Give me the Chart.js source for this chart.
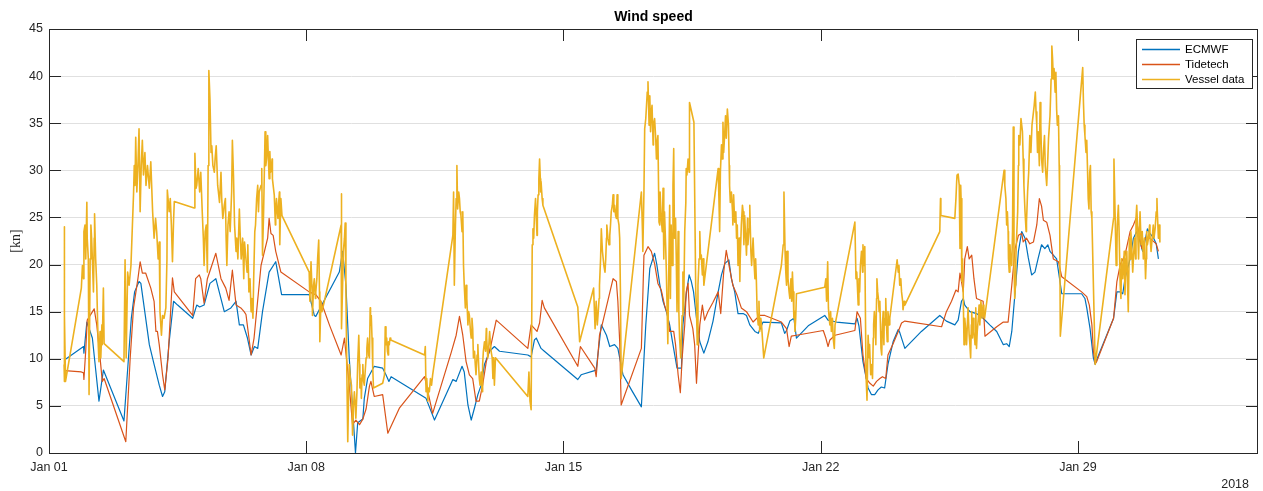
<!DOCTYPE html>
<html>
<head>
<meta charset="utf-8">
<title>Wind speed</title>
<script src="https://cdn.jsdelivr.net/npm/chart.js@4.4.1/dist/chart.umd.min.js"></script>
<style>
    html, body { margin: 0; padding: 0; background: #fff; }
    #wrap { width: 1263px; height: 491px; }
</style>
</head>
<body>
<div id="wrap"><canvas id="wind-speed" width="1263" height="491"></canvas></div>
<script>
// ============================================================================
// Data (x = days since Jan 01 2018, y = wind speed in knots)
// ============================================================================

const xTickDays = [0, 7, 14, 21, 28];
const xTickLabels = ['Jan 01', 'Jan 08', 'Jan 15', 'Jan 22', 'Jan 29'];
const yTicks = [0, 5, 10, 15, 20, 25, 30, 35, 40, 45];

const ecmwfSpeed = [
    [0.43,9.9],[0.94,11.3],[0.95,10.6],[1.03,13.9],[1.18,12.2],[1.36,5.5],[1.48,8.8],[2.04,3.4],[2.24,14.3],[2.33,17.1],
    [2.45,18.2],[2.5,18.0],[2.73,11.5],[2.86,9.4],[3.0,7.2],[3.09,6.0],[3.15,6.5],[3.27,11.8],[3.39,16.1],[3.5,15.7],
    [3.91,14.3],[4.02,15.7],[4.1,15.5],[4.22,15.7],[4.38,18.0],[4.54,18.5],[4.77,15.0],[4.95,15.4],[5.09,16.1],[5.18,13.6],
    [5.29,13.6],[5.4,12.2],[5.5,10.4],[5.59,11.3],[5.68,11.1],[5.81,15.0],[5.99,19.2],[6.17,20.3],[6.33,16.8],[7.08,16.8],
    [7.22,14.6],[7.26,14.5],[7.9,19.2],[7.99,21.4],[8.08,17.8],[8.17,10.1],[8.26,4.8],[8.34,0.0],[8.4,3.2],[8.54,3.6],
    [8.58,5.8],[8.67,7.9],[8.85,9.2],[9.08,9.0],[9.17,8.3],[9.25,7.6],[9.31,8.1],[10.26,5.8],[10.49,3.5],[10.99,7.8],
    [11.08,7.6],[11.24,9.2],[11.3,8.6],[11.4,5.1],[11.49,3.5],[11.58,4.8],[11.67,6.2],[11.76,7.2],[11.85,9.4],[11.99,10.8],
    [12.12,11.3],[12.26,10.8],[13.03,10.4],[13.12,10.2],[13.21,12.0],[13.26,12.2],[13.39,11.1],[13.48,10.8],[14.39,7.8],[14.48,8.3],
    [14.89,8.8],[15.03,13.6],[15.17,12.5],[15.26,11.3],[15.39,11.5],[15.48,11.1],[15.62,8.3],[15.85,6.7],[16.12,4.9],[16.24,13.6],
    [16.35,19.6],[16.48,21.2],[16.54,20.0],[16.62,17.9],[16.71,16.1],[16.8,15.0],[16.89,13.6],[16.98,11.5],[17.09,9.0],[17.21,9.0],
    [17.25,13.6],[17.34,16.8],[17.42,18.9],[17.48,18.2],[17.54,17.1],[17.62,14.3],[17.71,11.8],[17.82,10.6],[17.93,11.8],[18.07,14.0],
    [18.21,17.1],[18.3,18.9],[18.39,20.1],[18.5,20.5],[18.57,18.5],[18.66,17.1],[18.75,14.8],[18.89,14.8],[18.98,14.6],[19.07,13.6],
    [19.21,12.9],[19.3,12.7],[19.43,13.9],[19.93,13.8],[20.02,12.7],[20.07,13.0],[20.16,14.0],[20.27,14.3],[20.34,12.2],[20.66,13.5],
    [21.11,14.6],[21.2,14.1],[21.43,13.9],[21.93,13.7],[21.99,14.3],[22.04,13.5],[22.15,9.7],[22.29,6.9],[22.38,6.2],[22.47,6.2],
    [22.56,6.7],[22.65,7.0],[22.74,6.9],[22.83,9.4],[22.97,11.8],[23.11,13.1],[23.15,12.8],[23.29,11.1],[23.74,12.9],[24.24,14.6],
    [24.42,14.0],[24.65,13.6],[24.74,14.1],[24.83,16.1],[24.88,16.4],[24.92,15.7],[25.06,15.0],[25.24,14.8],[25.42,14.3],[25.6,13.6],
    [25.79,12.9],[25.97,11.5],[26.06,11.6],[26.13,11.3],[26.2,12.9],[26.29,17.1],[26.38,21.4],[26.47,23.5],[26.56,22.8],[26.65,20.7],
    [26.74,18.9],[26.83,19.2],[26.92,20.7],[27.01,22.1],[27.1,21.7],[27.18,22.1],[27.24,21.4],[27.33,21.0],[27.42,20.6],[27.56,16.9],
    [28.1,16.9],[28.19,16.4],[28.24,15.4],[28.33,13.2],[28.42,10.1],[28.47,9.4],[28.51,9.9],[28.97,14.3],[29.06,17.1],[29.15,17.1],
    [29.22,16.9],[29.28,18.5],[29.42,20.6],[29.51,22.8],[29.6,23.5],[29.69,22.4],[29.76,21.4],[29.83,22.6],[29.89,23.8],[29.96,23.3],
    [30.06,22.8],[30.13,22.2],[30.19,20.6]
];

const tidetechSpeed = [
    [0.43,8.75],[0.88,8.6],[0.94,8.5],[0.95,7.8],[1.0,10.9],[1.04,14.1],[1.23,15.3],[1.3,13.6],[1.39,10.1],[1.45,7.6],
    [1.5,7.9],[2.09,1.2],[2.21,10.1],[2.3,15.4],[2.42,18.5],[2.48,20.3],[2.54,19.1],[2.63,19.1],[2.77,17.5],[2.86,16.1],
    [2.91,12.9],[2.95,12.9],[3.0,11.5],[3.09,8.3],[3.15,6.7],[3.24,10.1],[3.36,18.6],[3.41,17.1],[3.91,14.6],[3.99,18.5],
    [4.09,18.9],[4.13,18.5],[4.22,15.9],[4.31,18.5],[4.54,21.2],[4.68,18.5],[4.81,17.5],[4.9,16.2],[4.99,19.4],[5.09,15.7],
    [5.22,15.4],[5.31,15.0],[5.36,14.7],[5.5,10.4],[5.58,12.2],[5.77,19.9],[5.95,22.8],[5.99,24.9],[6.04,23.3],[6.1,23.1],
    [6.17,21.4],[6.31,19.2],[7.08,17.1],[7.26,16.8],[7.4,16.1],[7.63,13.6],[7.95,10.4],[8.04,12.2],[8.08,10.6],[8.17,7.2],
    [8.26,3.0],[8.35,3.5],[8.45,3.0],[8.54,3.6],[8.63,4.7],[8.72,7.1],[8.76,7.6],[8.85,6.0],[9.08,6.2],[9.22,2.1],
    [9.54,4.8],[10.22,8.1],[10.44,4.2],[10.94,10.6],[11.08,12.5],[11.17,14.5],[11.26,12.5],[11.35,9.7],[11.44,8.3],[11.53,7.9],
    [11.62,5.5],[11.71,5.5],[11.8,7.2],[11.9,9.7],[12.03,11.5],[12.17,14.1],[13.03,11.1],[13.12,13.6],[13.28,12.9],[13.35,13.8],
    [13.42,16.2],[13.48,15.4],[14.39,9.2],[14.46,11.3],[14.85,9.0],[14.89,8.1],[14.98,12.5],[15.07,13.9],[15.35,18.5],[15.44,18.2],
    [15.48,16.1],[15.53,11.8],[15.57,5.1],[16.12,11.1],[16.19,21.0],[16.3,21.9],[16.39,21.4],[16.48,20.1],[16.57,18.0],[16.66,17.3],
    [16.75,15.7],[16.84,14.6],[16.89,12.9],[17.0,12.9],[17.05,11.5],[17.12,8.3],[17.18,6.4],[17.23,10.1],[17.3,13.6],[17.34,17.1],
    [17.39,18.0],[17.43,14.6],[17.52,13.2],[17.57,11.5],[17.62,7.4],[17.71,13.6],[17.78,15.7],[17.84,14.1],[17.93,15.0],[18.07,16.0],
    [18.21,17.1],[18.28,14.8],[18.36,19.2],[18.43,21.5],[18.52,19.6],[18.61,17.8],[18.72,16.8],[18.84,15.4],[18.98,15.0],[19.16,13.9],
    [19.34,14.6],[19.48,14.6],[19.93,13.9],[20.07,13.2],[20.14,11.3],[20.2,12.4],[20.34,12.5],[21.07,13.0],[21.14,12.2],[21.2,11.3],
    [21.25,12.0],[21.39,12.5],[21.93,13.0],[21.99,15.0],[22.08,14.3],[22.15,10.4],[22.24,7.9],[22.34,7.4],[22.43,7.1],[22.52,7.6],
    [22.61,7.9],[22.68,8.1],[22.77,7.9],[22.83,10.4],[22.97,11.6],[23.11,12.9],[23.2,13.8],[23.29,14.0],[24.29,13.4],[24.42,15.0],
    [24.56,16.1],[24.68,17.3],[24.74,17.1],[24.79,19.1],[24.88,17.1],[24.92,20.6],[24.99,21.9],[25.04,20.6],[25.11,21.0],[25.17,18.5],
    [25.24,16.4],[25.42,16.1],[25.47,12.4],[25.79,13.4],[25.97,13.9],[26.1,13.9],[26.2,17.8],[26.29,21.7],[26.38,23.1],[26.47,23.3],
    [26.51,22.4],[26.6,22.8],[26.69,22.2],[26.79,22.4],[26.88,24.2],[26.95,27.0],[27.01,26.2],[27.06,24.7],[27.15,24.5],[27.24,23.1],
    [27.33,20.6],[27.47,20.3],[27.56,18.7],[28.1,17.1],[28.24,16.6],[28.31,15.7],[28.38,13.6],[28.42,10.8],[28.47,9.5],[28.51,9.7],
    [28.97,14.3],[29.06,18.2],[29.15,20.0],[29.28,21.0],[29.42,23.5],[29.51,24.2],[29.58,24.9],[29.65,23.5],[29.74,21.7],[29.83,22.8],
    [29.96,22.8],[30.13,22.2],[30.19,21.4]
];

const vesselSpeed = [
    [0.41,9.4],[0.41,24.0],[0.42,7.6],[0.43,14.6],[0.45,7.6],[0.88,17.5],[0.91,19.9],[0.94,18.5],[0.95,23.5],[0.98,24.2],
    [1.0,20.6],[1.03,26.6],[1.04,22.8],[1.07,20.6],[1.09,6.2],[1.12,20.6],[1.14,24.2],[1.16,22.8],[1.18,20.6],[1.21,17.1],
    [1.23,22.8],[1.24,25.4],[1.27,20.6],[1.3,17.8],[1.32,14.3],[1.34,11.5],[1.36,9.7],[1.39,12.9],[1.41,10.1],[1.44,13.6],
    [1.45,11.5],[1.48,17.5],[1.5,11.6],[2.04,9.7],[2.07,20.5],[2.1,10.1],[2.14,19.2],[2.18,17.8],[2.23,19.9],[2.27,24.2],
    [2.3,27.4],[2.32,30.5],[2.34,28.4],[2.36,33.5],[2.39,27.7],[2.42,30.5],[2.45,34.4],[2.48,25.6],[2.51,30.5],[2.54,33.2],
    [2.57,29.5],[2.61,31.9],[2.64,28.4],[2.68,30.5],[2.73,28.1],[2.77,30.9],[2.82,25.6],[2.86,22.8],[2.9,24.9],[2.93,23.5],
    [2.97,20.6],[3.0,22.4],[3.02,15.0],[3.06,12.5],[3.09,14.6],[3.13,14.3],[3.18,15.4],[3.21,20.6],[3.22,27.9],[3.27,25.6],
    [3.3,27.0],[3.33,24.2],[3.36,20.3],[3.39,24.7],[3.41,26.7],[3.95,26.0],[3.97,31.8],[4.0,28.1],[4.02,28.4],[4.06,30.2],
    [4.1,27.7],[4.13,29.8],[4.17,25.6],[4.2,22.8],[4.22,19.9],[4.25,23.5],[4.28,24.2],[4.3,20.6],[4.31,19.2],[4.33,30.5],
    [4.35,40.6],[4.38,37.6],[4.41,31.9],[4.43,32.6],[4.46,30.5],[4.5,29.8],[4.52,31.2],[4.55,32.6],[4.59,28.4],[4.61,27.7],
    [4.64,26.6],[4.68,29.8],[4.7,27.0],[4.73,24.9],[4.77,26.3],[4.8,27.0],[4.82,22.8],[4.84,19.9],[4.87,24.2],[4.9,25.6],
    [4.93,23.5],[4.97,27.7],[4.99,33.2],[5.02,29.5],[5.05,24.2],[5.09,21.4],[5.11,22.8],[5.14,20.6],[5.18,25.9],[5.2,23.5],
    [5.23,20.6],[5.27,22.8],[5.3,18.5],[5.32,22.4],[5.36,20.6],[5.39,19.2],[5.41,22.1],[5.44,17.1],[5.47,18.5],[5.5,15.0],
    [5.52,16.4],[5.55,14.3],[5.57,18.5],[5.6,23.5],[5.62,24.2],[5.65,27.0],[5.68,28.4],[5.7,25.6],[5.72,27.7],[5.77,28.4],
    [5.79,30.2],[5.81,21.0],[5.84,25.6],[5.86,29.8],[5.88,34.1],[5.9,30.5],[5.92,31.2],[5.95,33.7],[5.97,31.2],[5.99,29.1],
    [6.01,32.0],[6.03,29.8],[6.05,30.2],[6.07,31.2],[6.08,29.1],[6.1,28.4],[6.13,27.4],[6.16,24.2],[6.17,25.6],[6.19,27.0],
    [6.21,25.6],[6.23,24.9],[6.25,26.6],[6.27,27.7],[6.28,22.1],[6.3,25.6],[6.31,27.0],[6.34,25.2],[7.08,19.2],[7.1,16.1],
    [7.13,20.3],[7.16,17.1],[7.17,14.6],[7.2,17.8],[7.22,18.5],[7.25,16.4],[7.26,17.1],[7.29,18.5],[7.31,20.6],[7.34,22.6],
    [7.36,17.1],[7.37,11.8],[7.4,16.1],[7.43,15.0],[7.95,24.2],[7.95,27.5],[7.97,13.2],[7.99,17.8],[8.01,21.4],[8.04,22.8],
    [8.06,24.4],[8.08,17.1],[8.1,10.1],[8.13,1.2],[8.15,5.5],[8.17,9.4],[8.2,7.9],[8.23,7.2],[8.25,4.4],[8.26,1.9],
    [8.29,5.1],[8.31,6.5],[8.34,4.8],[8.35,3.7],[8.38,6.5],[8.4,9.5],[8.43,12.5],[8.45,9.4],[8.46,6.9],[8.49,7.9],
    [8.5,5.8],[8.52,8.3],[8.54,9.4],[8.56,7.6],[8.58,7.2],[8.61,9.0],[8.63,10.1],[8.65,11.1],[8.67,12.2],[8.7,10.4],
    [8.72,10.1],[8.74,15.4],[8.75,13.6],[8.77,14.6],[8.79,12.2],[8.81,9.0],[8.83,6.9],[9.08,7.4],[9.13,8.3],[9.15,13.4],
    [9.17,11.5],[9.19,12.2],[9.21,10.8],[9.23,10.4],[9.24,11.8],[9.26,11.5],[9.28,12.2],[9.3,12.0],[10.22,10.4],[10.24,11.3],
    [10.26,6.5],[10.28,7.9],[10.31,5.5],[10.33,6.9],[10.35,6.5],[10.38,7.9],[10.41,7.2],[10.44,8.3],[10.99,23.1],[11.01,27.7],
    [11.03,17.8],[11.06,24.2],[11.08,27.0],[11.1,30.5],[11.12,25.9],[11.15,27.7],[11.17,27.0],[11.19,25.6],[11.21,25.2],[11.24,23.5],
    [11.26,25.6],[11.28,19.9],[11.3,17.8],[11.33,15.4],[11.35,17.8],[11.37,16.4],[11.4,13.6],[11.42,15.0],[11.44,14.6],[11.47,12.9],
    [11.49,12.2],[11.51,14.3],[11.53,13.2],[11.55,10.1],[11.58,10.8],[11.6,9.4],[11.62,8.3],[11.65,10.4],[11.67,11.5],[11.7,8.6],
    [11.71,7.9],[11.73,7.2],[11.76,8.6],[11.79,6.5],[11.8,9.4],[11.82,10.8],[11.85,11.8],[11.88,10.8],[11.9,13.2],[11.91,12.2],
    [11.94,10.1],[11.97,11.5],[11.99,12.9],[12.01,11.8],[12.03,10.8],[12.06,10.1],[12.08,7.9],[12.1,10.1],[12.12,7.2],[12.15,10.1],
    [13.03,6.0],[13.06,8.6],[13.09,5.5],[13.12,4.6],[13.15,22.1],[13.17,23.8],[13.19,22.8],[13.21,25.2],[13.24,27.0],[13.26,24.9],
    [13.28,23.1],[13.29,25.6],[13.31,27.4],[13.33,29.1],[13.35,31.2],[13.37,29.1],[13.38,27.7],[13.39,28.8],[13.42,27.0],[13.44,26.3],
    [14.39,15.5],[14.44,11.8],[14.82,17.5],[14.86,13.2],[14.89,16.1],[14.92,13.6],[14.94,14.6],[14.97,16.4],[14.98,17.8],[15.01,20.6],
    [15.03,23.8],[15.06,21.4],[15.07,21.4],[15.1,19.9],[15.13,19.2],[15.15,20.6],[15.17,22.8],[15.18,24.2],[15.21,22.8],[15.24,22.1],
    [15.26,23.1],[15.28,24.2],[15.3,25.6],[15.33,26.3],[15.35,27.4],[15.37,25.6],[15.39,26.3],[15.42,25.2],[15.44,24.9],[15.46,27.4],
    [15.48,24.9],[15.51,24.2],[15.53,22.8],[15.55,17.1],[15.57,7.9],[16.12,27.7],[16.15,23.5],[16.16,21.4],[16.19,27.7],[16.21,34.4],
    [16.24,35.5],[16.26,36.9],[16.28,38.3],[16.3,39.4],[16.33,34.8],[16.35,37.9],[16.37,34.1],[16.39,36.2],[16.41,36.9],[16.44,32.7],
    [16.45,34.8],[16.48,35.5],[16.51,33.4],[16.53,31.2],[16.54,32.7],[16.57,33.7],[16.6,24.5],[16.62,24.2],[16.63,27.7],[16.66,24.9],
    [16.69,23.5],[16.71,28.1],[16.73,20.6],[16.75,25.6],[16.78,22.1],[16.8,19.2],[16.82,15.4],[16.84,11.6],[16.87,20.6],[16.89,26.3],
    [16.91,16.4],[16.93,24.2],[16.96,19.9],[16.98,28.4],[17.0,32.3],[17.02,22.8],[17.05,24.9],[17.07,20.6],[17.09,15.0],[17.12,23.5],
    [17.14,15.0],[17.16,12.2],[17.19,10.1],[17.21,12.2],[17.23,14.6],[17.25,19.2],[17.27,15.0],[17.3,23.5],[17.33,26.6],[17.34,30.2],
    [17.36,29.5],[17.39,31.2],[17.42,29.8],[17.43,37.2],[17.55,35.1],[17.57,27.7],[17.6,17.1],[17.62,15.4],[17.64,11.5],[17.66,17.8],
    [17.69,20.6],[17.71,23.5],[17.73,20.6],[17.75,21.0],[17.78,18.9],[17.8,20.6],[17.82,17.8],[18.21,30.2],[18.23,27.0],[18.25,23.5],
    [18.27,29.8],[18.3,32.7],[18.32,31.2],[18.34,35.1],[18.36,31.9],[18.39,34.1],[18.41,35.8],[18.43,33.4],[18.46,36.5],[18.49,34.8],
    [18.51,30.5],[18.52,28.4],[18.54,26.6],[18.57,27.7],[18.6,25.6],[18.61,24.2],[18.63,27.4],[18.66,24.5],[18.69,25.6],[18.71,22.8],
    [18.73,24.2],[18.75,19.9],[18.78,22.8],[18.8,18.2],[18.81,20.6],[18.84,24.2],[18.87,26.3],[18.89,25.6],[18.91,22.1],[18.93,25.2],
    [18.96,22.8],[18.98,21.0],[19.01,24.9],[19.02,22.1],[19.05,23.8],[19.07,26.3],[19.1,21.4],[19.12,19.9],[19.16,22.8],[19.19,19.9],
    [19.21,18.5],[19.23,20.6],[19.25,18.2],[19.27,15.0],[19.3,13.6],[19.32,16.1],[19.34,12.9],[19.37,14.3],[19.39,13.6],[19.45,10.1],
    [19.93,19.9],[19.98,22.1],[20.0,27.7],[20.03,21.4],[20.05,19.2],[20.07,17.8],[20.09,21.4],[20.11,18.5],[20.14,17.1],[20.16,16.4],
    [20.19,18.5],[20.21,16.1],[20.23,19.2],[20.25,17.1],[20.27,14.3],[20.29,15.0],[20.3,12.9],[20.32,14.3],[20.34,16.9],[21.11,17.6],
    [21.14,18.5],[21.16,16.1],[21.19,20.3],[21.21,15.4],[21.23,14.3],[21.25,13.6],[21.27,15.0],[21.29,12.9],[21.32,14.3],[21.34,12.2],
    [21.37,11.1],[21.39,13.6],[21.93,24.5],[21.96,18.5],[21.98,19.2],[21.99,18.5],[22.02,15.7],[22.04,18.5],[22.06,17.1],[22.08,19.9],
    [22.11,21.4],[22.14,19.2],[22.15,22.1],[22.17,19.9],[22.2,21.9],[22.23,9.7],[22.24,7.6],[22.26,5.6],[22.29,12.5],[22.32,10.1],
    [22.33,11.5],[22.36,8.3],[22.39,9.4],[22.41,7.9],[22.43,12.2],[22.44,13.6],[22.46,15.0],[22.48,13.9],[22.5,11.5],[22.52,16.4],
    [22.53,18.5],[22.55,17.1],[22.57,16.4],[22.59,15.0],[22.61,16.1],[22.63,12.9],[22.64,11.1],[22.66,10.4],[22.68,13.6],[22.7,15.0],
    [22.72,11.5],[22.73,14.3],[22.75,13.6],[22.77,16.4],[22.79,13.6],[22.81,11.8],[22.83,15.0],[22.86,13.6],[22.88,14.3],[23.08,20.5],
    [23.11,19.2],[23.13,19.9],[23.15,17.8],[23.18,18.5],[23.2,17.1],[23.23,16.1],[23.24,15.2],[23.27,16.1],[23.29,15.7],[24.24,23.5],
    [24.26,27.0],[24.27,25.2],[24.65,24.9],[24.68,27.0],[24.7,28.8],[24.71,29.5],[24.74,29.6],[24.77,28.4],[24.79,21.7],[24.81,28.4],
    [24.82,27.0],[24.84,18.2],[24.86,20.6],[24.88,16.4],[24.9,11.5],[24.92,14.3],[24.95,12.9],[24.97,11.5],[24.99,13.6],[25.01,15.4],
    [25.04,12.5],[25.06,11.5],[25.08,10.1],[25.1,13.6],[25.11,15.0],[25.13,12.2],[25.15,14.3],[25.17,12.9],[25.2,11.5],[25.22,15.4],
    [25.24,11.1],[25.26,12.9],[25.29,14.3],[25.31,15.7],[25.33,13.6],[25.36,16.1],[25.39,14.3],[25.42,15.7],[25.44,14.6],[25.46,14.3],
    [25.99,30.0],[26.01,28.4],[26.04,27.0],[26.06,24.2],[26.08,25.6],[26.1,23.5],[26.11,20.6],[26.13,19.2],[26.15,22.1],[26.17,20.6],
    [26.2,19.9],[26.22,23.5],[26.24,34.6],[26.26,19.9],[26.28,16.4],[26.3,17.8],[26.31,20.6],[26.33,22.8],[26.36,25.6],[26.38,30.5],
    [26.39,33.7],[26.42,32.7],[26.45,35.5],[26.47,34.8],[26.49,34.1],[26.51,31.2],[26.53,28.4],[26.56,25.6],[26.59,23.5],[26.6,24.5],
    [26.63,27.7],[26.66,29.8],[26.69,33.7],[26.72,31.9],[26.75,34.8],[26.79,36.2],[26.81,36.9],[26.84,38.3],[26.86,36.2],[26.88,34.8],
    [26.9,31.9],[26.92,34.1],[26.95,30.5],[26.97,37.2],[26.99,34.8],[27.01,31.2],[27.04,29.8],[27.06,31.9],[27.09,33.7],[27.11,30.5],
    [27.15,28.4],[27.18,31.2],[27.2,33.4],[27.24,35.8],[27.27,39.7],[27.29,43.2],[27.31,41.8],[27.33,39.7],[27.35,40.8],[27.38,38.3],
    [27.4,40.4],[27.42,36.5],[27.44,34.8],[27.47,35.8],[27.49,30.5],[27.5,27.7],[27.52,12.4],[28.13,40.9],[28.15,37.2],[28.17,34.8],
    [28.19,33.7],[28.22,31.9],[28.24,33.2],[28.26,30.2],[28.28,27.0],[28.3,25.9],[28.32,29.8],[28.34,30.5],[28.36,25.6],[28.38,24.9],
    [28.47,9.4],[28.97,24.9],[28.98,31.2],[29.01,25.6],[29.04,19.9],[29.06,21.4],[29.07,24.2],[29.1,26.3],[29.12,23.5],[29.15,17.8],
    [29.17,16.4],[29.19,20.6],[29.22,18.5],[29.24,19.9],[29.26,21.4],[29.28,16.8],[29.31,20.6],[29.33,21.4],[29.36,16.4],[29.37,15.0],
    [29.4,22.8],[29.42,20.6],[29.44,23.5],[29.47,21.4],[29.49,19.2],[29.51,20.6],[29.54,22.8],[29.57,20.6],[29.58,24.9],[29.6,26.3],
    [29.62,24.2],[29.65,20.6],[29.67,23.5],[29.69,25.6],[29.72,22.1],[29.75,23.5],[29.78,20.6],[29.81,22.8],[29.84,18.5],[29.86,20.6],
    [29.87,23.5],[29.89,22.1],[29.92,22.8],[29.95,24.2],[29.96,23.1],[29.99,21.4],[30.02,22.8],[30.05,24.2],[30.07,22.8],[30.1,23.8],
    [30.13,25.6],[30.15,27.0],[30.16,25.6],[30.19,22.8],[30.21,24.2],[30.23,22.4]
];

// ============================================================================
// Style
// ============================================================================

const AXIS_COLOR = '#262626';
const GRID_COLOR = '#e0e0e0';
const TICK_LEN = 12;
const SANS = '"Liberation Sans", Arial, Helvetica, sans-serif';

Chart.defaults.font.family = SANS;
Chart.defaults.color = AXIS_COLOR;

function makeSeries(label, points, color, width, order) {
    return {
        label,
        data: points.map(([x, y]) => ({ x, y })),
        borderColor: color,
        backgroundColor: color,
        borderWidth: width,
        borderJoinStyle: 'round',
        pointRadius: 0,
        tension: 0,
        fill: false,
        order,
    };
}

// Box around the axes, inward tick marks, title, labels and legend
const axesFrame = {
    id: 'axesFrame',
    afterDraw(chart) {
        const { ctx, chartArea: a, scales: { x, y } } = chart;
        ctx.save();
        ctx.strokeStyle = AXIS_COLOR;
        ctx.lineWidth = 1;
        ctx.strokeRect(a.left + 0.5, a.top + 0.5, a.right - a.left - 1, a.bottom - a.top);

        ctx.beginPath();
        y.ticks.forEach(t => {
            const py = Math.round(y.getPixelForValue(t.value)) + 0.5;
            ctx.moveTo(a.left, py); ctx.lineTo(a.left + TICK_LEN, py);
            ctx.moveTo(a.right, py); ctx.lineTo(a.right - TICK_LEN, py);
        });
        x.ticks.forEach(t => {
            const px = Math.round(x.getPixelForValue(t.value)) + 0.5;
            ctx.moveTo(px, a.bottom); ctx.lineTo(px, a.bottom - TICK_LEN);
            ctx.moveTo(px, a.top); ctx.lineTo(px, a.top + TICK_LEN);
        });
        ctx.stroke();

        // title
        ctx.fillStyle = '#000';
        ctx.font = 'bold 14px ' + SANS;
        ctx.textAlign = 'center';
        ctx.textBaseline = 'alphabetic';
        ctx.fillText('Wind speed', (a.left + a.right) / 2, 21);

        // year under the last tick
        ctx.fillStyle = AXIS_COLOR;
        ctx.font = '12.5px ' + SANS;
        ctx.textAlign = 'right';
        ctx.textBaseline = 'middle';
        ctx.fillText('2018', 1249, 485);

        // y axis label
        ctx.save();
        ctx.translate(16, (a.top + a.bottom) / 2);
        ctx.rotate(-Math.PI / 2);
        ctx.font = '14px "Liberation Serif", "Times New Roman", serif';
        ctx.textAlign = 'center';
        ctx.textBaseline = 'middle';
        ctx.fillText('[kn]', 0, 0);
        ctx.restore();

        // legend
        const lx = 1136, ly = 39, lw = 116, lh = 49;
        ctx.fillStyle = '#fff';
        ctx.fillRect(lx, ly, lw, lh);
        ctx.strokeStyle = AXIS_COLOR;
        ctx.strokeRect(lx + 0.5, ly + 0.5, lw, lh);
        ctx.font = '11.5px ' + SANS;
        ctx.textAlign = 'left';
        ctx.textBaseline = 'middle';
        ctx.lineWidth = 1.5;
        chart.data.datasets.forEach((ds, i) => {
            const ey = ly + 10.5 + i * 15;
            ctx.strokeStyle = ds.borderColor;
            ctx.beginPath();
            ctx.moveTo(lx + 6, ey);
            ctx.lineTo(lx + 44, ey);
            ctx.stroke();
            ctx.fillStyle = '#000';
            ctx.fillText(ds.label, lx + 49, ey);
        });
        ctx.restore();
    }
};

// ============================================================================
// Chart
// ============================================================================

new Chart(document.getElementById('wind-speed'), {
    type: 'line',
    data: {
        datasets: [
            makeSeries('ECMWF', ecmwfSpeed, '#0072BD', 1.2, 2),
            makeSeries('Tidetech', tidetechSpeed, '#D95319', 1.2, 1),
            makeSeries('Vessel data', vesselSpeed, '#EDB120', 1.6, 0),
        ],
    },
    options: {
        responsive: false,
        animation: false,
        events: [],
        layout: { padding: { top: 29, right: 5, left: 0, bottom: 0 } },
        plugins: {
            legend: { display: false },
            tooltip: { enabled: false },
        },
        scales: {
            x: {
                type: 'linear',
                min: 0,
                max: 32.9,
                grid: { display: false, drawTicks: false },
                border: { display: false },
                afterBuildTicks: s => { s.ticks = xTickDays.map(v => ({ value: v })); },
                afterFit: s => { s.height = 38; },
                ticks: {
                    padding: 7,
                    maxRotation: 0,
                    autoSkip: false,
                    font: { size: 12.5 },
                    callback: (v, i) => xTickLabels[i],
                },
            },
            y: {
                type: 'linear',
                min: 0,
                max: 45,
                grid: { color: GRID_COLOR, lineWidth: 1, drawTicks: false },
                border: { display: false },
                afterBuildTicks: s => { s.ticks = yTicks.map(v => ({ value: v })); },
                afterFit: s => { s.width = 49; },
                ticks: {
                    padding: 6,
                    font: { size: 12.5 },
                },
            },
        },
    },
    plugins: [axesFrame],
});
</script>
</body>
</html>
